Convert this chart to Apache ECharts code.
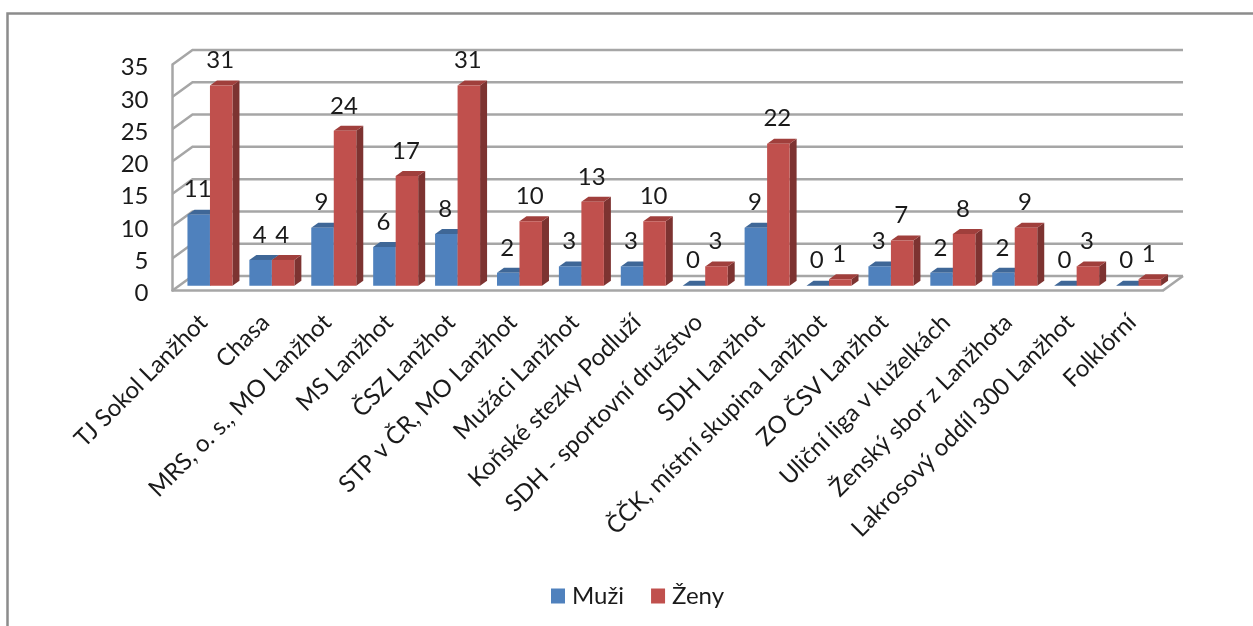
<!DOCTYPE html>
<html>
<head>
<meta charset="utf-8">
<style>
  html, body { margin: 0; padding: 0; background: #fff; }
  #chart { width: 1253px; height: 626px; }
  #chart canvas { filter: blur(0.5px); } /* predloha je mekky prevzorkovana */
</style>
<script src="https://cdn.jsdelivr.net/npm/echarts@6/dist/echarts.min.js"></script>
</head>
<body>
<div id="chart"></div>
<script>
const categories = [
  "TJ Sokol Lanžhot", "Chasa", "MRS, o. s., MO Lanžhot", "MS Lanžhot", "ČSZ Lanžhot",
  "STP v ČR, MO Lanžhot", "Mužáci Lanžhot", "Koňské stezky Podluží", "SDH - sportovní družstvo",
  "SDH Lanžhot", "ČČK, místní skupina Lanžhot", "ZO ČSV Lanžhot", "Uliční liga v kuželkách",
  "Ženský sbor z Lanžhota", "Lakrosový oddíl 300 Lanžhot", "Folklórní"
];
const muzi = [11, 4, 9, 6, 8, 2, 3, 3, 0, 9, 0, 3, 2, 2, 0, 0];
const zeny = [31, 4, 24, 17, 31, 10, 13, 10, 3, 22, 1, 7, 8, 9, 3, 1];
const yTicks = [0, 5, 10, 15, 20, 25, 30, 35];

const FONT = "Lato";
const WALL_DX = 20, WALL_DY = 14.5;   // hloubka grafu
const BAR_DX = 7, BAR_DY = 5;         // hloubka sloupce
const GRID_COLOR = "#a6a6a6";

// zadni mrizka + podlaha
function renderGridLine(params, api) {
  const cs = params.coordSys;
  const y = api.coord([0, api.value(0)])[1];
  const x0 = cs.x, x1 = cs.x + cs.width + WALL_DX;
  const children = [{
    type: "polyline",
    shape: { points: [[x0, y], [x0 + WALL_DX, y - WALL_DY], [x1, y - WALL_DY]] },
    style: { stroke: GRID_COLOR, lineWidth: 2.5, fill: null }
  }];
  if (api.value(0) === 0) {
    children.push({
      type: "line",
      shape: { x1: cs.x + cs.width, y1: y, x2: x1, y2: y - WALL_DY },
      style: { stroke: GRID_COLOR, lineWidth: 2.5 }
    });
  }
  return { type: "group", children };
}

function make3dBar(side, front, sideColor, topColor) {
  return function (params, api) {
    const p = api.coord([api.value(0), api.value(1)]);
    const base = api.coord([api.value(0), 0]);
    const band = api.size([1, 0])[0];
    const w = band * 0.3635;
    const xl = p[0] + (WALL_DX - BAR_DX) / 2 + (side === 0 ? -w : 0);
    const xr = xl + w;
    const yb = base[1] - (WALL_DY - BAR_DY) / 2;
    const yt = p[1] - (WALL_DY - BAR_DY) / 2;
    return {
      type: "group",
      children: [
        {
          type: "polygon",
          shape: { points: [[xr, yb], [xr + BAR_DX, yb - BAR_DY], [xr + BAR_DX, yt - BAR_DY], [xr, yt]] },
          style: { fill: sideColor }
        },
        {
          type: "polygon",
          shape: { points: [[xl, yt], [xl + BAR_DX, yt - BAR_DY], [xr + BAR_DX, yt - BAR_DY], [xr, yt]] },
          style: { fill: topColor }
        },
        {
          type: "rect",
          shape: { x: xl, y: yt, width: w, height: yb - yt },
          style: { fill: front }
        },
        {
          type: "text",
          style: {
            x: (xl + xr) / 2 - 1, y: yt - 25,
            text: String(api.value(1)),
            fill: "#1a1a1a", font: "24px " + FONT,
            align: "center", verticalAlign: "middle"
          }
        }
      ]
    };
  };
}

const chart = echarts.init(document.getElementById("chart"), null, { renderer: "canvas" });
chart.setOption({
  animation: false,
  backgroundColor: "#fff",
  grid: { left: 172.5, top: 64.5, width: 990.5, height: 226 },
  legend: {
    data: ["Muži", "Ženy"],
    left: 546,
    top: 579,
    icon: "rect",
    itemWidth: 14,
    itemHeight: 15,
    itemGap: 27,
    textStyle: { fontFamily: FONT, fontSize: 24, color: "#1a1a1a", padding: [0, 0, 0, 2] }
  },
  xAxis: {
    type: "category",
    data: categories,
    axisLine: { lineStyle: { color: GRID_COLOR, width: 2.5 } },
    axisTick: { show: false },
    axisLabel: {
      interval: 0,
      rotate: 45,
      margin: 28,
      fontFamily: FONT,
      fontSize: 24,
      color: "#1a1a1a"
    }
  },
  yAxis: {
    type: "value",
    min: 0,
    max: 35,
    interval: 5,
    axisLine: { show: true, lineStyle: { color: GRID_COLOR, width: 2.5 } },
    axisTick: { show: false },
    splitLine: { show: false },
    axisLabel: { margin: 24, verticalAlign: "top", lineHeight: 6, fontFamily: FONT, fontSize: 24, color: "#1a1a1a" }
  },
  series: [
    {
      name: "mrizka",
      type: "custom",
      data: yTicks.map(v => [v]),
      encode: { y: 0 },
      renderItem: renderGridLine,
      silent: true,
      z: 1
    },
    {
      name: "Muži",
      type: "custom",
      data: muzi.map((v, i) => [i, v]),
      encode: { x: 0, y: 1 },
      itemStyle: { color: "#4f81bd" },
      renderItem: make3dBar(0, "#4f81bd", "#3a6089", "#3f6797"),
      z: 2
    },
    {
      name: "Ženy",
      type: "custom",
      data: zeny.map((v, i) => [i, v]),
      encode: { x: 0, y: 1 },
      itemStyle: { color: "#c0504d" },
      renderItem: make3dBar(1, "#c0504d", "#7d3331", "#a03f3c"),
      z: 3
    }
  ],
  graphic: [
    {
      type: "polyline",
      shape: { points: [[7.5, 626], [7.5, 13.5], [1253, 13.5]] },
      style: { stroke: "#8c8c8c", lineWidth: 2.5, fill: null }
    }
  ]
});
</script>
</body>
</html>
